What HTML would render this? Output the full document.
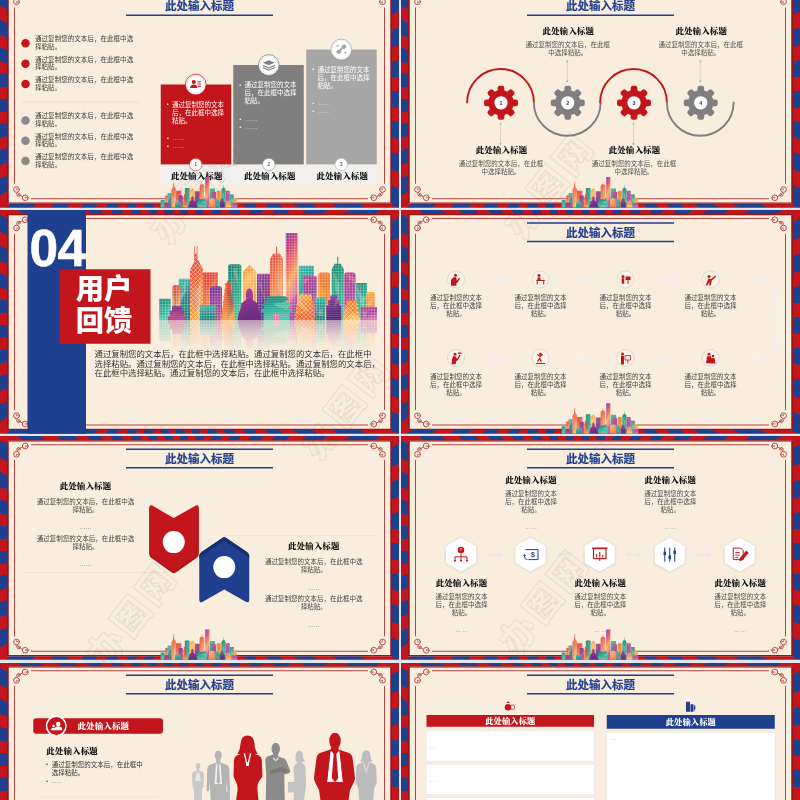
<!DOCTYPE html><html lang="zh"><head><meta charset="utf-8"><title>PPT</title><style>
html,body{margin:0;padding:0}
body{width:800px;height:800px;overflow:hidden;position:relative;background:#dfe8ef;font-family:"Liberation Sans","Noto Sans CJK SC",sans-serif}
.s{position:absolute;width:1596px;height:895px;transform:scale(.25);transform-origin:0 0;overflow:hidden;
background:repeating-conic-gradient(from -2.9deg at 44.7% 50%,#c3161c 0deg 3.7deg,#1f3f8f 3.7deg 8deg)}
.p{position:absolute;left:28px;top:14px;width:1526px;height:854px;border:solid #9a1717;border-width:5px 7px;background:#f9eedd;box-shadow:inset 0 0 0 2px #fdf6ea}
.a{position:absolute}
.t{position:absolute;white-space:nowrap;font-size:25px;line-height:32px;color:#3c3c3c}
.c{text-align:center;transform:translateX(-50%)}
.h{position:absolute;white-space:nowrap;font-family:"Liberation Serif","Noto Serif CJK SC",serif;font-weight:900;font-size:34px;line-height:44px;color:#111;letter-spacing:.5px}
.tt{position:absolute;left:504px;top:47px;width:588px;height:68px;border-top:6px solid #1f3f8f;border-bottom:6px solid #1f3f8f;-webkit-text-stroke:.7px #1f3f8f;
text-align:center;font-weight:bold;font-size:46px;line-height:70px;color:#1f3f8f;white-space:nowrap}
svg{position:absolute;left:0;top:0;overflow:visible}
.wm{position:absolute;white-space:nowrap;font-weight:900;font-size:37px;line-height:40px;letter-spacing:3px;color:transparent;-webkit-text-stroke:1.2px rgba(80,70,60,.11);transform:translate(-50%,-50%) rotate(-52deg)}
</style></head><body><svg width="0" height="0" style="position:absolute"><defs><linearGradient id="b0" x1="0" y1="0" x2="0.25" y2="1"><stop offset="0.00" stop-color="#2fb9a2"/><stop offset="0.50" stop-color="#17998c"/><stop offset="1.00" stop-color="#0f7f7c"/></linearGradient><linearGradient id="b1" x1="0" y1="0" x2="0.25" y2="1"><stop offset="0.00" stop-color="#df3440"/><stop offset="0.33" stop-color="#f0623c"/><stop offset="0.67" stop-color="#f6a05c"/><stop offset="1.00" stop-color="#e9709a"/></linearGradient><linearGradient id="b2" x1="0" y1="0" x2="0.25" y2="1"><stop offset="0.00" stop-color="#138371"/><stop offset="0.50" stop-color="#25ab93"/><stop offset="1.00" stop-color="#4cc5ab"/></linearGradient><linearGradient id="b3" x1="0" y1="0" x2="0.25" y2="1"><stop offset="0.00" stop-color="#e2322f"/><stop offset="0.50" stop-color="#ee5a32"/><stop offset="1.00" stop-color="#f9a03f"/></linearGradient><linearGradient id="b4" x1="0" y1="0" x2="0.25" y2="1"><stop offset="0.00" stop-color="#e2322f"/><stop offset="0.50" stop-color="#ee5a32"/><stop offset="1.00" stop-color="#f9a03f"/></linearGradient><linearGradient id="b5" x1="0" y1="0" x2="0.25" y2="1"><stop offset="0.00" stop-color="#5f2a8a"/><stop offset="0.50" stop-color="#8f3794"/><stop offset="1.00" stop-color="#ba3f8a"/></linearGradient><linearGradient id="b6" x1="0" y1="0" x2="0.25" y2="1"><stop offset="0.00" stop-color="#0c7a64"/><stop offset="0.50" stop-color="#1b9c7b"/><stop offset="1.00" stop-color="#3fb996"/></linearGradient><linearGradient id="b7" x1="0" y1="0" x2="0.25" y2="1"><stop offset="0.00" stop-color="#e2322f"/><stop offset="0.50" stop-color="#ee5a32"/><stop offset="1.00" stop-color="#f9a03f"/></linearGradient><linearGradient id="b8" x1="0" y1="0" x2="0.25" y2="1"><stop offset="0.00" stop-color="#f37a25"/><stop offset="0.33" stop-color="#fdbf57"/><stop offset="0.67" stop-color="#f9a34e"/><stop offset="1.00" stop-color="#ee6f7a"/></linearGradient><linearGradient id="b9" x1="0" y1="0" x2="0.25" y2="1"><stop offset="0.00" stop-color="#96399a"/><stop offset="0.50" stop-color="#6a2f8a"/><stop offset="1.00" stop-color="#4f2578"/></linearGradient><linearGradient id="b10" x1="0" y1="0" x2="0.25" y2="1"><stop offset="0.00" stop-color="#df3440"/><stop offset="0.33" stop-color="#f0623c"/><stop offset="0.67" stop-color="#f6a05c"/><stop offset="1.00" stop-color="#e9709a"/></linearGradient><linearGradient id="b11" x1="0" y1="0" x2="0.25" y2="1"><stop offset="0.00" stop-color="#6f3a98"/><stop offset="0.20" stop-color="#c2307e"/><stop offset="0.40" stop-color="#ee5a5a"/><stop offset="0.60" stop-color="#f8a84a"/><stop offset="0.80" stop-color="#e0609a"/><stop offset="1.00" stop-color="#9b3f9c"/></linearGradient><linearGradient id="b12" x1="0" y1="0" x2="0.25" y2="1"><stop offset="0.00" stop-color="#2fb9a2"/><stop offset="0.50" stop-color="#17998c"/><stop offset="1.00" stop-color="#0f7f7c"/></linearGradient><linearGradient id="b13" x1="0" y1="0" x2="0.25" y2="1"><stop offset="0.00" stop-color="#bd2f84"/><stop offset="0.50" stop-color="#9a3f98"/><stop offset="1.00" stop-color="#d86aa6"/></linearGradient><linearGradient id="b14" x1="0" y1="0" x2="0.25" y2="1"><stop offset="0.00" stop-color="#f26a2e"/><stop offset="0.50" stop-color="#f7941d"/><stop offset="1.00" stop-color="#fdbb4d"/></linearGradient><linearGradient id="b15" x1="0" y1="0" x2="0.25" y2="1"><stop offset="0.00" stop-color="#0c7a64"/><stop offset="0.50" stop-color="#1b9c7b"/><stop offset="1.00" stop-color="#3fb996"/></linearGradient><linearGradient id="b16" x1="0" y1="0" x2="0.25" y2="1"><stop offset="0.00" stop-color="#bd2f84"/><stop offset="0.50" stop-color="#9a3f98"/><stop offset="1.00" stop-color="#d86aa6"/></linearGradient><linearGradient id="b17" x1="0" y1="0" x2="0.25" y2="1"><stop offset="0.00" stop-color="#138371"/><stop offset="0.50" stop-color="#25ab93"/><stop offset="1.00" stop-color="#4cc5ab"/></linearGradient><linearGradient id="b18" x1="0" y1="0" x2="0.25" y2="1"><stop offset="0.00" stop-color="#fbb03b"/><stop offset="0.50" stop-color="#f58220"/><stop offset="1.00" stop-color="#ef5a2a"/></linearGradient><linearGradient id="b19" x1="0" y1="0" x2="0.25" y2="1"><stop offset="0.00" stop-color="#5f2a8a"/><stop offset="0.50" stop-color="#8f3794"/><stop offset="1.00" stop-color="#ba3f8a"/></linearGradient><linearGradient id="b20" x1="0" y1="0" x2="0.25" y2="1"><stop offset="0.00" stop-color="#2fb9a2"/><stop offset="0.50" stop-color="#17998c"/><stop offset="1.00" stop-color="#0f7f7c"/></linearGradient><linearGradient id="b21" x1="0" y1="0" x2="0.25" y2="1"><stop offset="0.00" stop-color="#b8418f"/><stop offset="0.50" stop-color="#8a3490"/><stop offset="1.00" stop-color="#6c2c84"/></linearGradient><linearGradient id="b22" x1="0" y1="0" x2="0.25" y2="1"><stop offset="0.00" stop-color="#138371"/><stop offset="0.50" stop-color="#25ab93"/><stop offset="1.00" stop-color="#4cc5ab"/></linearGradient><linearGradient id="b23" x1="0" y1="0" x2="0.25" y2="1"><stop offset="0.00" stop-color="#fbb03b"/><stop offset="0.50" stop-color="#f58220"/><stop offset="1.00" stop-color="#ef5a2a"/></linearGradient><linearGradient id="b24" x1="0" y1="0" x2="0.25" y2="1"><stop offset="0.00" stop-color="#2fb9a2"/><stop offset="0.50" stop-color="#17998c"/><stop offset="1.00" stop-color="#0f7f7c"/></linearGradient><linearGradient id="b25" x1="0" y1="0" x2="0.25" y2="1"><stop offset="0.00" stop-color="#96399a"/><stop offset="0.50" stop-color="#6a2f8a"/><stop offset="1.00" stop-color="#4f2578"/></linearGradient><linearGradient id="b26" x1="0" y1="0" x2="0.25" y2="1"><stop offset="0.00" stop-color="#f26a2e"/><stop offset="0.50" stop-color="#f7941d"/><stop offset="1.00" stop-color="#fdbb4d"/></linearGradient><linearGradient id="b27" x1="0" y1="0" x2="0.25" y2="1"><stop offset="0.00" stop-color="#bd2f84"/><stop offset="0.50" stop-color="#9a3f98"/><stop offset="1.00" stop-color="#d86aa6"/></linearGradient><pattern id="win" width="11" height="11" patternUnits="userSpaceOnUse"><path d="M0 1.2H11M1.2 0V11" stroke="#fff" stroke-opacity=".5" stroke-width="2.4" fill="none"/></pattern><pattern id="lat" width="17" height="17" patternUnits="userSpaceOnUse"><path d="M0 0L17 17M17 0L0 17" stroke="#fff" stroke-opacity=".8" stroke-width="2.4" fill="none"/></pattern><pattern id="hl" width="8" height="9" patternUnits="userSpaceOnUse"><path d="M0 1H8" stroke="#fff" stroke-opacity=".45" stroke-width="2" fill="none"/></pattern><linearGradient id="fade" x1="0" y1="0" x2="0" y2="1"><stop offset="0" stop-color="#fff" stop-opacity=".5"/><stop offset=".5" stop-color="#fff" stop-opacity=".2"/><stop offset="1" stop-color="#fff" stop-opacity="0"/></linearGradient><mask id="mfade"><rect x="600" y="438" width="950" height="125" fill="url(#fade)"/></mask><g id="SKY"><path d="M715 438 H760 V273 H715 Z" fill="url(#b0)"/><clipPath id="c0"><path d="M715 438 H760 V273 H715 Z"/></clipPath><g clip-path="url(#c0)"><path d="M730 298 L747 285 L740 333Z" fill="#fff" opacity=".22"/><path d="M756 308 L711 342 L721 364Z" fill="#fff" opacity=".22"/><path d="M752 293 L720 377 L767 368Z" fill="#5a2a80" opacity=".22"/></g><path d="M715 438 H760 V273 H715 Z" fill="url(#win)"/><path d="M690 438 H722 V308 Q722 298 712 298 H700 Q690 298 690 308 Z" fill="url(#b1)"/><clipPath id="c1"><path d="M690 438 H722 V308 Q722 298 712 298 H700 Q690 298 690 308 Z"/></clipPath><g clip-path="url(#c1)"><path d="M692 329 L709 317 L702 374Z" fill="#0b5d6b" opacity=".22"/><path d="M700 412 L689 379 L713 350Z" fill="#0b5d6b" opacity=".22"/><path d="M713 377 L712 367 L708 407Z" fill="#5a2a80" opacity=".22"/></g><path d="M690 438 H722 V308 Q722 298 712 298 H700 Q690 298 690 308 Z" fill="url(#win)"/><path d="M637 438 H683 V353 H637 Z" fill="url(#b2)"/><clipPath id="c2"><path d="M637 438 H683 V353 H637 Z"/></clipPath><g clip-path="url(#c2)"><path d="M664 392 L647 421 L673 374Z" fill="#0b5d6b" opacity=".22"/><path d="M651 395 L650 391 L667 359Z" fill="#0b5d6b" opacity=".22"/><path d="M656 417 L637 395 L630 410Z" fill="#0b5d6b" opacity=".22"/></g><path d="M637 438 H683 V353 H637 Z" fill="url(#win)"/><path d="M760 438 H812 V233 L790 193 V143 H787 V173 H780 V143 H777 V205 L760 238 Z" fill="url(#b3)"/><clipPath id="c3"><path d="M760 438 H812 V233 L790 193 V143 H787 V173 H780 V143 H777 V205 L760 238 Z"/></clipPath><g clip-path="url(#c3)"><path d="M790 407 L773 363 L793 335Z" fill="#5a2a80" opacity=".22"/><path d="M764 216 L769 364 L755 372Z" fill="#ff5a8a" opacity=".22"/><path d="M794 436 L809 263 L778 357Z" fill="#fff" opacity=".22"/></g><path d="M760 438 H812 V233 L790 193 V143 H787 V173 H780 V143 H777 V205 L760 238 Z" fill="url(#lat)"/><path d="M812 438 H872 V248 H812 Z" fill="url(#b4)"/><clipPath id="c4"><path d="M812 438 H872 V248 H812 Z"/></clipPath><g clip-path="url(#c4)"><path d="M868 316 L851 342 L819 303Z" fill="#e8402a" opacity=".22"/><path d="M827 322 L872 263 L838 352Z" fill="#ffd27a" opacity=".22"/><path d="M861 412 L824 327 L831 416Z" fill="#ffd27a" opacity=".22"/></g><path d="M812 438 H872 V248 H812 Z" fill="url(#win)"/><path d="M840 438 H888 V313 Q888 303 878 303 H850 Q840 303 840 313 Z" fill="url(#b5)"/><clipPath id="c5"><path d="M840 438 H888 V313 Q888 303 878 303 H850 Q840 303 840 313 Z"/></clipPath><g clip-path="url(#c5)"><path d="M847 327 L846 335 L863 383Z" fill="#ff5a8a" opacity=".22"/><path d="M854 323 L866 385 L852 320Z" fill="#0b5d6b" opacity=".22"/><path d="M886 391 L880 365 L889 432Z" fill="#e8402a" opacity=".22"/></g><path d="M840 438 H888 V313 Q888 303 878 303 H850 Q840 303 840 313 Z" fill="url(#win)"/><path d="M912 438 H965 V225 Q965 215 955 215 H922 Q912 215 912 225 Z" fill="url(#b6)"/><clipPath id="c6"><path d="M912 438 H965 V225 Q965 215 955 215 H922 Q912 215 912 225 Z"/></clipPath><g clip-path="url(#c6)"><path d="M954 303 L931 238 L948 229Z" fill="#fff" opacity=".22"/><path d="M964 313 L910 349 L909 341Z" fill="#0b5d6b" opacity=".22"/><path d="M917 296 L904 410 L947 248Z" fill="#ff5a8a" opacity=".22"/></g><path d="M912 438 H965 V225 Q965 215 955 215 H922 Q912 215 912 225 Z" fill="url(#win)"/><path d="M884.0 438.0 L884.0 438.0 L887.0 418.7 L881.0 414.7 L887.1 413.7 L890.1 394.3 L884.1 390.3 L890.2 389.3 L893.2 370.0 L887.2 366.0 L893.2 365.0 L896.2 345.7 L890.2 341.7 L896.3 340.7 L899.3 321.3 L893.3 317.3 L899.4 316.3 L902.4 297.0 L896.4 293.0 L907.0 292.0 L912.0 278.0 L917.0 292.0 L927.6 293.0 L921.6 297.0 L924.6 316.3 L930.7 317.3 L924.7 321.3 L927.7 340.7 L933.8 341.7 L927.8 345.7 L930.8 365.0 L936.8 366.0 L930.8 370.0 L933.8 389.3 L939.9 390.3 L933.9 394.3 L936.9 413.7 L943.0 414.7 L937.0 418.7 L940.0 438.0Z" fill="url(#b7)"/><clipPath id="c7"><path d="M884.0 438.0 L884.0 438.0 L887.0 418.7 L881.0 414.7 L887.1 413.7 L890.1 394.3 L884.1 390.3 L890.2 389.3 L893.2 370.0 L887.2 366.0 L893.2 365.0 L896.2 345.7 L890.2 341.7 L896.3 340.7 L899.3 321.3 L893.3 317.3 L899.4 316.3 L902.4 297.0 L896.4 293.0 L907.0 292.0 L912.0 278.0 L917.0 292.0 L927.6 293.0 L921.6 297.0 L924.6 316.3 L930.7 317.3 L924.7 321.3 L927.7 340.7 L933.8 341.7 L927.8 345.7 L930.8 365.0 L936.8 366.0 L930.8 370.0 L933.8 389.3 L939.9 390.3 L933.9 394.3 L936.9 413.7 L943.0 414.7 L937.0 418.7 L940.0 438.0Z"/></clipPath><g clip-path="url(#c7)"><path d="M938 374 L910 296 L911 434Z" fill="#5a2a80" opacity=".22"/><path d="M911 292 L882 333 L894 411Z" fill="#ffd27a" opacity=".22"/><path d="M913 311 L946 336 L926 424Z" fill="#0b5d6b" opacity=".22"/></g><path d="M884.0 438.0 L884.0 438.0 L887.0 418.7 L881.0 414.7 L887.1 413.7 L890.1 394.3 L884.1 390.3 L890.2 389.3 L893.2 370.0 L887.2 366.0 L893.2 365.0 L896.2 345.7 L890.2 341.7 L896.3 340.7 L899.3 321.3 L893.3 317.3 L899.4 316.3 L902.4 297.0 L896.4 293.0 L907.0 292.0 L912.0 278.0 L917.0 292.0 L927.6 293.0 L921.6 297.0 L924.6 316.3 L930.7 317.3 L924.7 321.3 L927.7 340.7 L933.8 341.7 L927.8 345.7 L930.8 365.0 L936.8 366.0 L930.8 370.0 L933.8 389.3 L939.9 390.3 L933.9 394.3 L936.9 413.7 L943.0 414.7 L937.0 418.7 L940.0 438.0Z" fill="url(#hl)"/><path d="M972 438 H1025 V245 L998.5 217 L972 245 Z" fill="url(#b8)"/><clipPath id="c8"><path d="M972 438 H1025 V245 L998.5 217 L972 245 Z"/></clipPath><g clip-path="url(#c8)"><path d="M988 369 L969 408 L1000 420Z" fill="#ff5a8a" opacity=".22"/><path d="M1013 348 L1019 309 L978 402Z" fill="#ffd27a" opacity=".22"/><path d="M1015 403 L1016 289 L1000 314Z" fill="#fff" opacity=".22"/></g><path d="M972 438 H1025 V245 L998.5 217 L972 245 Z" fill="url(#win)"/><path d="M1028 438 H1082 V253 H1028 Z" fill="url(#b9)"/><clipPath id="c9"><path d="M1028 438 H1082 V253 H1028 Z"/></clipPath><g clip-path="url(#c9)"><path d="M1081 399 L1053 289 L1063 317Z" fill="#e8402a" opacity=".22"/><path d="M1081 430 L1045 294 L1035 289Z" fill="#ffd27a" opacity=".22"/><path d="M1054 435 L1063 253 L1085 317Z" fill="#e8402a" opacity=".22"/></g><path d="M1028 438 H1082 V253 H1028 Z" fill="url(#win)"/><path d="M1080 438 H1132 V195 L1120 173 L1108 173 V145 H1104 V173 L1092 173 L1080 195 Z" fill="url(#b10)"/><clipPath id="c10"><path d="M1080 438 H1132 V195 L1120 173 L1108 173 V145 H1104 V173 L1092 173 L1080 195 Z"/></clipPath><g clip-path="url(#c10)"><path d="M1084 348 L1136 380 L1124 300Z" fill="#ffd27a" opacity=".22"/><path d="M1103 341 L1076 424 L1122 296Z" fill="#e8402a" opacity=".22"/><path d="M1129 365 L1082 207 L1081 413Z" fill="#e8402a" opacity=".22"/></g><path d="M1080 438 H1132 V195 L1120 173 L1108 173 V145 H1104 V173 L1092 173 L1080 195 Z" fill="url(#win)"/><path d="M1143 438 H1190 V90 H1143 Z" fill="url(#b11)"/><clipPath id="c11"><path d="M1143 438 H1190 V90 H1143 Z"/></clipPath><g clip-path="url(#c11)"><path d="M1150 378 L1199 319 L1156 281Z" fill="#ffd27a" opacity=".22"/><path d="M1144 368 L1182 126 L1183 138Z" fill="#ffd27a" opacity=".22"/><path d="M1182 163 L1150 192 L1149 294Z" fill="#ff5a8a" opacity=".22"/></g><path d="M1143 438 H1190 V90 H1143 Z" fill="url(#win)"/><path d="M1195 438 H1255 V221 H1195 Z" fill="url(#b12)"/><clipPath id="c12"><path d="M1195 438 H1255 V221 H1195 Z"/></clipPath><g clip-path="url(#c12)"><path d="M1228 402 L1190 382 L1257 365Z" fill="#0b5d6b" opacity=".22"/><path d="M1220 420 L1225 336 L1227 225Z" fill="#5a2a80" opacity=".22"/><path d="M1242 353 L1247 254 L1196 355Z" fill="#fff" opacity=".22"/></g><path d="M1195 438 H1255 V221 H1195 Z" fill="url(#win)"/><path d="M1215 438 H1267 V263 H1215 Z" fill="url(#b13)"/><clipPath id="c13"><path d="M1215 438 H1267 V263 H1215 Z"/></clipPath><g clip-path="url(#c13)"><path d="M1244 320 L1242 360 L1261 282Z" fill="#0b5d6b" opacity=".22"/><path d="M1218 296 L1208 280 L1238 268Z" fill="#fff" opacity=".22"/><path d="M1238 370 L1241 353 L1255 342Z" fill="#0b5d6b" opacity=".22"/></g><path d="M1215 438 H1267 V263 H1215 Z" fill="url(#win)"/><path d="M1273 438 H1320 V258 Q1320 248 1310 248 H1283 Q1273 248 1273 258 Z" fill="url(#b14)"/><clipPath id="c14"><path d="M1273 438 H1320 V258 Q1320 248 1310 248 H1283 Q1273 248 1273 258 Z"/></clipPath><g clip-path="url(#c14)"><path d="M1311 344 L1280 347 L1322 424Z" fill="#0b5d6b" opacity=".22"/><path d="M1315 286 L1293 327 L1289 308Z" fill="#e8402a" opacity=".22"/><path d="M1284 262 L1308 397 L1323 277Z" fill="#e8402a" opacity=".22"/></g><path d="M1273 438 H1320 V258 Q1320 248 1310 248 H1283 Q1273 248 1273 258 Z" fill="url(#win)"/><path d="M1327 438 H1375 V235 L1363 213 L1353 213 V185 H1349 V213 L1339 213 L1327 235 Z" fill="url(#b15)"/><clipPath id="c15"><path d="M1327 438 H1375 V235 L1363 213 L1353 213 V185 H1349 V213 L1339 213 L1327 235 Z"/></clipPath><g clip-path="url(#c15)"><path d="M1358 295 L1334 244 L1349 381Z" fill="#fff" opacity=".22"/><path d="M1346 323 L1384 400 L1328 310Z" fill="#0b5d6b" opacity=".22"/><path d="M1346 308 L1341 234 L1342 289Z" fill="#5a2a80" opacity=".22"/></g><path d="M1327 438 H1375 V235 L1363 213 L1353 213 V185 H1349 V213 L1339 213 L1327 235 Z" fill="url(#win)"/><path d="M1377 438 H1422 V258 Q1422 248 1412 248 H1387 Q1377 248 1377 258 Z" fill="url(#b16)"/><clipPath id="c16"><path d="M1377 438 H1422 V258 Q1422 248 1412 248 H1387 Q1377 248 1377 258 Z"/></clipPath><g clip-path="url(#c16)"><path d="M1397 251 L1389 367 L1400 260Z" fill="#ffd27a" opacity=".22"/><path d="M1421 268 L1384 256 L1418 299Z" fill="#ffd27a" opacity=".22"/><path d="M1414 409 L1411 428 L1393 350Z" fill="#0b5d6b" opacity=".22"/></g><path d="M1377 438 H1422 V258 Q1422 248 1412 248 H1387 Q1377 248 1377 258 Z" fill="url(#win)"/><path d="M1425 438 H1468 V290 H1425 Z" fill="url(#b17)"/><clipPath id="c17"><path d="M1425 438 H1468 V290 H1425 Z"/></clipPath><g clip-path="url(#c17)"><path d="M1450 394 L1421 299 L1458 353Z" fill="#fff" opacity=".22"/><path d="M1437 292 L1421 329 L1453 323Z" fill="#ff5a8a" opacity=".22"/><path d="M1462 357 L1436 372 L1473 330Z" fill="#ffd27a" opacity=".22"/></g><path d="M1425 438 H1468 V290 H1425 Z" fill="url(#win)"/><path d="M1465 438 H1500 V336 Q1500 326 1490 326 H1475 Q1465 326 1465 336 Z" fill="url(#b18)"/><clipPath id="c18"><path d="M1465 438 H1500 V336 Q1500 326 1490 326 H1475 Q1465 326 1465 336 Z"/></clipPath><g clip-path="url(#c18)"><path d="M1467 405 L1507 435 L1469 346Z" fill="#ff5a8a" opacity=".22"/><path d="M1487 385 L1466 376 L1492 356Z" fill="#fff" opacity=".22"/><path d="M1500 330 L1456 383 L1509 384Z" fill="#ffd27a" opacity=".22"/></g><path d="M1465 438 H1500 V336 Q1500 326 1490 326 H1475 Q1465 326 1465 336 Z" fill="url(#win)"/><path d="M672 438 H745 V423 H737 V401 H729 V383 H688 V401 H680 V423 H672 Z" fill="url(#b19)"/><clipPath id="c19"><path d="M672 438 H745 V423 H737 V401 H729 V383 H688 V401 H680 V423 H672 Z"/></clipPath><g clip-path="url(#c19)"><path d="M740 389 L738 407 L708 429Z" fill="#5a2a80" opacity=".22"/><path d="M743 400 L682 396 L680 432Z" fill="#e8402a" opacity=".22"/><path d="M718 405 L694 386 L674 387Z" fill="#e8402a" opacity=".22"/></g><path d="M672 438 H745 V423 H737 V401 H729 V383 H688 V401 H680 V423 H672 Z" fill="url(#hl)"/><path d="M800 438 H865 V378 H800 Z" fill="url(#b20)"/><clipPath id="c20"><path d="M800 438 H865 V378 H800 Z"/></clipPath><g clip-path="url(#c20)"><path d="M857 404 L795 418 L822 408Z" fill="#ff5a8a" opacity=".22"/><path d="M839 420 L794 389 L813 378Z" fill="#ff5a8a" opacity=".22"/><path d="M863 436 L837 393 L872 397Z" fill="#ff5a8a" opacity=".22"/></g><path d="M800 438 H865 V378 H800 Z" fill="url(#win)"/><path d="M950 438 H1045 L1039 408 L1031.5 390 L1029.5 371 L1010.5 357 Q1015.5 315 997.5 311 Q979.5 315 984.5 357 L965.5 371 L963.5 390 L956 408 L950 438 Z" fill="url(#b21)"/><clipPath id="c21"><path d="M950 438 H1045 L1039 408 L1031.5 390 L1029.5 371 L1010.5 357 Q1015.5 315 997.5 311 Q979.5 315 984.5 357 L965.5 371 L963.5 390 L956 408 L950 438 Z"/></clipPath><g clip-path="url(#c21)"><path d="M967 355 L950 348 L1015 344Z" fill="#fff" opacity=".22"/><path d="M959 415 L957 386 L985 350Z" fill="#e8402a" opacity=".22"/><path d="M972 386 L1001 407 L1016 402Z" fill="#0b5d6b" opacity=".22"/></g><path d="M1054 438 L1054 407 L1040 403 L1052 391 L1060 391 L1060 383 L1046 379 L1058 367 L1068 367 L1068 359 L1056 355 L1072 343 L1140 343 L1156 355 L1144 359 L1144 367 L1154 367 L1166 379 L1152 383 L1152 391 L1160 391 L1172 403 L1158 407 L1158 438 L1120 438 L1120 412 L1092 412 L1092 438Z" fill="url(#b22)"/><clipPath id="c22"><path d="M1054 438 L1054 407 L1040 403 L1052 391 L1060 391 L1060 383 L1046 379 L1058 367 L1068 367 L1068 359 L1056 355 L1072 343 L1140 343 L1156 355 L1144 359 L1144 367 L1154 367 L1166 379 L1152 383 L1152 391 L1160 391 L1172 403 L1158 407 L1158 438 L1120 438 L1120 412 L1092 412 L1092 438Z"/></clipPath><g clip-path="url(#c22)"><path d="M1091 374 L1180 357 L1140 404Z" fill="#fff" opacity=".22"/><path d="M1149 411 L1108 384 L1137 391Z" fill="#0b5d6b" opacity=".22"/><path d="M1139 397 L1154 345 L1134 419Z" fill="#e8402a" opacity=".22"/></g><path d="M1054 438 L1054 407 L1040 403 L1052 391 L1060 391 L1060 383 L1046 379 L1058 367 L1068 367 L1068 359 L1056 355 L1072 343 L1140 343 L1156 355 L1144 359 L1144 367 L1154 367 L1166 379 L1152 383 L1152 391 L1160 391 L1172 403 L1158 407 L1158 438 L1120 438 L1120 412 L1092 412 L1092 438Z" fill="url(#hl)"/><path d="M1178 438 H1260 L1246 336 H1192 Z" fill="url(#b23)"/><clipPath id="c23"><path d="M1178 438 H1260 L1246 336 H1192 Z"/></clipPath><g clip-path="url(#c23)"><path d="M1234 407 L1191 339 L1182 373Z" fill="#fff" opacity=".22"/><path d="M1209 382 L1173 338 L1222 361Z" fill="#ff5a8a" opacity=".22"/><path d="M1178 417 L1244 387 L1223 403Z" fill="#fff" opacity=".22"/></g><path d="M1178 438 H1260 L1246 336 H1192 Z" fill="url(#lat)"/><path d="M1260 438 H1300 V348 H1260 Z" fill="url(#b24)"/><clipPath id="c24"><path d="M1260 438 H1300 V348 H1260 Z"/></clipPath><g clip-path="url(#c24)"><path d="M1290 391 L1299 424 L1264 416Z" fill="#ffd27a" opacity=".22"/><path d="M1290 436 L1280 382 L1279 410Z" fill="#fff" opacity=".22"/><path d="M1285 406 L1255 361 L1265 415Z" fill="#ff5a8a" opacity=".22"/></g><path d="M1260 438 H1300 V348 H1260 Z" fill="url(#win)"/><path d="M1305 438 H1365 V380 H1357 V358 H1349 V340 H1321 V358 H1313 V380 H1305 Z" fill="url(#b25)"/><clipPath id="c25"><path d="M1305 438 H1365 V380 H1357 V358 H1349 V340 H1321 V358 H1313 V380 H1305 Z"/></clipPath><g clip-path="url(#c25)"><path d="M1342 353 L1334 388 L1373 350Z" fill="#ffd27a" opacity=".22"/><path d="M1346 369 L1336 386 L1332 352Z" fill="#0b5d6b" opacity=".22"/><path d="M1317 436 L1370 342 L1332 420Z" fill="#5a2a80" opacity=".22"/></g><path d="M1305 438 H1365 V380 H1357 V358 H1349 V340 H1321 V358 H1313 V380 H1305 Z" fill="url(#hl)"/><path d="M1372 438 H1440 L1426 360 H1386 Z" fill="url(#b26)"/><clipPath id="c26"><path d="M1372 438 H1440 L1426 360 H1386 Z"/></clipPath><g clip-path="url(#c26)"><path d="M1440 390 L1443 433 L1369 367Z" fill="#e8402a" opacity=".22"/><path d="M1408 434 L1374 424 L1407 429Z" fill="#e8402a" opacity=".22"/><path d="M1397 399 L1439 391 L1376 434Z" fill="#e8402a" opacity=".22"/></g><path d="M1372 438 H1440 L1426 360 H1386 Z" fill="url(#lat)"/><path d="M1443 438 H1508 V386 H1443 Z" fill="url(#b27)"/><clipPath id="c27"><path d="M1443 438 H1508 V386 H1443 Z"/></clipPath><g clip-path="url(#c27)"><path d="M1472 402 L1445 404 L1460 430Z" fill="#fff" opacity=".22"/><path d="M1464 404 L1467 435 L1450 387Z" fill="#e8402a" opacity=".22"/><path d="M1462 405 L1466 438 L1483 405Z" fill="#5a2a80" opacity=".22"/></g><path d="M1443 438 H1508 V386 H1443 Z" fill="url(#win)"/></g></defs></svg><div class="s" style="left:0px;top:-16px"><div class="a" style="left:0;top:1.4px;width:1596px;height:894px"><div class="p"></div><svg width="1596" height="894" viewBox="0 0 1596 894" fill="none" stroke="#b23a38" stroke-width="3.8"><path d="M124 32 H1472 M124 858 H1472 M58 93 V798 M1538 93 V798"/><g><g stroke-width="3.6" transform="translate(0,-3)" stroke-linecap="round"><circle cx="66" cy="73" r="11.5"/><circle cx="101" cy="40" r="11.5"/><path d="M66 73 C70 70 72 76 67 78"/><path d="M69 61 C63 50 72 42 79 48 C85 54 76 62 73 55 C71 47 84 52 89 44"/><path d="M101 40 C104 35 109 40 104 44"/></g></g><g transform="translate(1596,0) scale(-1,1)"><g stroke-width="3.6" transform="translate(0,-3)" stroke-linecap="round"><circle cx="66" cy="73" r="11.5"/><circle cx="101" cy="40" r="11.5"/><path d="M66 73 C70 70 72 76 67 78"/><path d="M69 61 C63 50 72 42 79 48 C85 54 76 62 73 55 C71 47 84 52 89 44"/><path d="M101 40 C104 35 109 40 104 44"/></g></g><g transform="translate(0,891) scale(1,-1)"><g stroke-width="3.6" transform="translate(0,-3)" stroke-linecap="round"><circle cx="66" cy="73" r="11.5"/><circle cx="101" cy="40" r="11.5"/><path d="M66 73 C70 70 72 76 67 78"/><path d="M69 61 C63 50 72 42 79 48 C85 54 76 62 73 55 C71 47 84 52 89 44"/><path d="M101 40 C104 35 109 40 104 44"/></g></g><g transform="translate(1596,891) scale(-1,-1)"><g stroke-width="3.6" transform="translate(0,-3)" stroke-linecap="round"><circle cx="66" cy="73" r="11.5"/><circle cx="101" cy="40" r="11.5"/><path d="M66 73 C70 70 72 76 67 78"/><path d="M69 61 C63 50 72 42 79 48 C85 54 76 62 73 55 C71 47 84 52 89 44"/><path d="M101 40 C104 35 109 40 104 44"/></g></g></svg><div class="tt">此处输入标题</div><div class="a" style="left:85px;top:218.6px;width:34px;height:34px;border-radius:50%;background:#c3161c"></div><div class="t" style="left:140px;top:203.1px;font-size:26.2px;line-height:31px;">通过复制您的文本后，在此框中选<br>择粘贴。</div><div class="a" style="left:85px;top:300.6px;width:34px;height:34px;border-radius:50%;background:#c3161c"></div><div class="t" style="left:140px;top:285.1px;font-size:26.2px;line-height:31px;">通过复制您的文本后，在此框中选<br>择粘贴。</div><div class="a" style="left:85px;top:381.6px;width:34px;height:34px;border-radius:50%;background:#c3161c"></div><div class="t" style="left:140px;top:366.1px;font-size:26.2px;line-height:31px;">通过复制您的文本后，在此框中选<br>择粘贴。</div><div class="a" style="left:85px;top:527.6px;width:34px;height:34px;border-radius:50%;background:#8a8a8a"></div><div class="t" style="left:140px;top:512.1px;font-size:26.2px;line-height:31px;">通过复制您的文本后，在此框中选<br>择粘贴。</div><div class="a" style="left:85px;top:608.6px;width:34px;height:34px;border-radius:50%;background:#8a8a8a"></div><div class="t" style="left:140px;top:593.1px;font-size:26.2px;line-height:31px;">通过复制您的文本后，在此框中选<br>择粘贴。</div><div class="a" style="left:85px;top:689.6px;width:34px;height:34px;border-radius:50%;background:#8a8a8a"></div><div class="t" style="left:140px;top:674.1px;font-size:26.2px;line-height:31px;">通过复制您的文本后，在此框中选<br>择粘贴。</div><div class="a" style="left:88px;top:470px;width:467px;height:2px;background:#d6cfc0"></div><div class="a" style="left:643px;top:400.6px;width:282px;height:320px;background:#c3161c"></div><div class="a" style="left:933px;top:322.6px;width:282px;height:398px;background:#7f7f7f"></div><div class="a" style="left:1225px;top:260.6px;width:282px;height:460px;background:#a6a6a6"></div><div class="a" style="left:643px;top:722px;width:864px;height:75px;background:#f1f0ee"></div><div class="t" style="left:688px;top:464.6px;font-size:26px;line-height:32px;color:#fff;">通过复制您的文本<br>后，在此框中选择<br>粘贴。</div><div class="t" style="left:667px;top:464.6px;font-size:22px;line-height:32px;color:#fff;">•</div><div class="t" style="left:667px;top:598.6px;font-size:25px;line-height:32px;color:#ffffffdd;">•&nbsp;&nbsp;……<br>•&nbsp;&nbsp;……</div><div class="a" style="left:740px;top:357.6px;width:80px;height:80px;border-radius:50%;background:#fff;border:3px solid #c3161c"></div><div class="a" style="left:746.5px;top:364.1px;width:70px;height:70px;border-radius:50%;border:1.5px solid #c3161c;opacity:.6"></div><div class="a" style="left:757px;top:694.6px;width:48px;height:48px;border-radius:50%;background:#fff;border:2px solid #c3161c;text-align:center;font-size:21px;line-height:48px;color:#333">1</div><div class="h c" style="left:787px;top:746.6px;">此处输入标题</div><div class="t" style="left:978px;top:386.6px;font-size:26px;line-height:32px;color:#fff;">通过复制您的文本<br>后，在此框中选择<br>粘贴。</div><div class="t" style="left:957px;top:386.6px;font-size:22px;line-height:32px;color:#fff;">•</div><div class="t" style="left:957px;top:520.6px;font-size:25px;line-height:32px;color:#ffffffdd;">•&nbsp;&nbsp;……<br>•&nbsp;&nbsp;……</div><div class="a" style="left:1032px;top:279.6px;width:80px;height:80px;border-radius:50%;background:#fff;border:3px solid #7f7f7f"></div><div class="a" style="left:1038.5px;top:286.1px;width:70px;height:70px;border-radius:50%;border:1.5px solid #7f7f7f;opacity:.6"></div><div class="a" style="left:1049px;top:694.6px;width:48px;height:48px;border-radius:50%;background:#fff;border:2px solid #7f7f7f;text-align:center;font-size:21px;line-height:48px;color:#333">2</div><div class="h c" style="left:1079px;top:746.6px;">此处输入标题</div><div class="t" style="left:1270px;top:324.6px;font-size:26px;line-height:32px;color:#fff;">通过复制您的文本<br>后，在此框中选择<br>粘贴。</div><div class="t" style="left:1249px;top:324.6px;font-size:22px;line-height:32px;color:#fff;">•</div><div class="t" style="left:1249px;top:458.6px;font-size:25px;line-height:32px;color:#ffffffdd;">•&nbsp;&nbsp;……<br>•&nbsp;&nbsp;……</div><div class="a" style="left:1322px;top:217.6px;width:80px;height:80px;border-radius:50%;background:#fff;border:3px solid #a6a6a6"></div><div class="a" style="left:1328.5px;top:224.1px;width:70px;height:70px;border-radius:50%;border:1.5px solid #a6a6a6;opacity:.6"></div><div class="a" style="left:1339px;top:694.6px;width:48px;height:48px;border-radius:50%;background:#fff;border:2px solid #a6a6a6;text-align:center;font-size:21px;line-height:48px;color:#333">3</div><div class="h c" style="left:1369px;top:746.6px;">此处输入标题</div><svg width="1596" height="894"><g fill="#c3161c"><circle cx="775" cy="391" r="8"/><path d="M761 415 q0 -14 14 -14 q14 0 14 14z"/><rect x="790" y="388" width="14" height="4"/><rect x="790" y="397" width="14" height="4"/><rect x="790" y="406" width="14" height="4"/><rect x="757" y="381" width="50" height="3" opacity=".0"/></g><g fill="#7f7f7f"><path d="M1075 304 l24 10 l-24 10 l-24 -10z"/><path d="M1051 322 l24 10 l24 -10 l0 5 l-24 10 l-24 -10z"/><path d="M1051 331 l24 10 l24 -10 l0 5 l-24 10 l-24 -10z"/></g><g fill="#a6a6a6"><rect x="1347" y="262" width="16" height="16" rx="3" transform="rotate(-45 1355 270)"/><rect x="1368" y="242" width="16" height="16" rx="3" transform="rotate(-45 1376 250)"/><rect x="1358" y="255" width="14" height="8" transform="rotate(-45 1365 259)"/><circle cx="1350" cy="246" r="4"/><circle cx="1381" cy="274" r="4"/></g></svg><svg width="1596" height="894"><use href="#SKY" transform="translate(418.48,738.824) scale(0.352)"/></svg></div></div><div class="s" style="left:401px;top:-16px"><div class="a" style="left:0;top:1.4px;width:1596px;height:894px"><div class="p"></div><svg width="1596" height="894" viewBox="0 0 1596 894" fill="none" stroke="#b23a38" stroke-width="3.8"><path d="M124 32 H1472 M124 858 H1472 M58 93 V798 M1538 93 V798"/><g><g stroke-width="3.6" transform="translate(0,-3)" stroke-linecap="round"><circle cx="66" cy="73" r="11.5"/><circle cx="101" cy="40" r="11.5"/><path d="M66 73 C70 70 72 76 67 78"/><path d="M69 61 C63 50 72 42 79 48 C85 54 76 62 73 55 C71 47 84 52 89 44"/><path d="M101 40 C104 35 109 40 104 44"/></g></g><g transform="translate(1596,0) scale(-1,1)"><g stroke-width="3.6" transform="translate(0,-3)" stroke-linecap="round"><circle cx="66" cy="73" r="11.5"/><circle cx="101" cy="40" r="11.5"/><path d="M66 73 C70 70 72 76 67 78"/><path d="M69 61 C63 50 72 42 79 48 C85 54 76 62 73 55 C71 47 84 52 89 44"/><path d="M101 40 C104 35 109 40 104 44"/></g></g><g transform="translate(0,891) scale(1,-1)"><g stroke-width="3.6" transform="translate(0,-3)" stroke-linecap="round"><circle cx="66" cy="73" r="11.5"/><circle cx="101" cy="40" r="11.5"/><path d="M66 73 C70 70 72 76 67 78"/><path d="M69 61 C63 50 72 42 79 48 C85 54 76 62 73 55 C71 47 84 52 89 44"/><path d="M101 40 C104 35 109 40 104 44"/></g></g><g transform="translate(1596,891) scale(-1,-1)"><g stroke-width="3.6" transform="translate(0,-3)" stroke-linecap="round"><circle cx="66" cy="73" r="11.5"/><circle cx="101" cy="40" r="11.5"/><path d="M66 73 C70 70 72 76 67 78"/><path d="M69 61 C63 50 72 42 79 48 C85 54 76 62 73 55 C71 47 84 52 89 44"/><path d="M101 40 C104 35 109 40 104 44"/></g></g></svg><div class="tt">此处输入标题</div><svg width="1596" height="894"><path d="M264.5 472.6 A133.5 133.5 0 0 1 531.5 472.6" fill="none" stroke="#c3161c" stroke-width="7.5" stroke-linecap="round"/><path d="M531.5 472.6 A133.5 133.5 0 0 0 798.5 472.6" fill="none" stroke="#7f7f7f" stroke-width="7.5" stroke-linecap="round"/><path d="M796.5 472.6 A133.5 133.5 0 0 1 1063.5 472.6" fill="none" stroke="#c3161c" stroke-width="7.5" stroke-linecap="round"/><path d="M1063.5 472.6 A133.5 133.5 0 0 0 1330.5 472.6" fill="none" stroke="#7f7f7f" stroke-width="7.5" stroke-linecap="round"/><g fill="#c3161c"><circle cx="400" cy="474.1" r="51"/><rect x="386.5" y="406.1" width="27" height="34" rx="9" transform="rotate(0 400 474.1)"/><rect x="386.5" y="406.1" width="27" height="34" rx="9" transform="rotate(45 400 474.1)"/><rect x="386.5" y="406.1" width="27" height="34" rx="9" transform="rotate(90 400 474.1)"/><rect x="386.5" y="406.1" width="27" height="34" rx="9" transform="rotate(135 400 474.1)"/><rect x="386.5" y="406.1" width="27" height="34" rx="9" transform="rotate(180 400 474.1)"/><rect x="386.5" y="406.1" width="27" height="34" rx="9" transform="rotate(225 400 474.1)"/><rect x="386.5" y="406.1" width="27" height="34" rx="9" transform="rotate(270 400 474.1)"/><rect x="386.5" y="406.1" width="27" height="34" rx="9" transform="rotate(315 400 474.1)"/></g><circle cx="400" cy="474.1" r="26.5" fill="#fff"/><path d="M398 557.6 V637.6" stroke="#b4b9c6" stroke-width="2"/><circle cx="398" cy="557.6" r="4" fill="#a9afc0"/><circle cx="398" cy="637.6" r="4" fill="#a9afc0"/><g fill="#7f7f7f"><circle cx="667" cy="474.1" r="51"/><rect x="653.5" y="406.1" width="27" height="34" rx="9" transform="rotate(0 667 474.1)"/><rect x="653.5" y="406.1" width="27" height="34" rx="9" transform="rotate(45 667 474.1)"/><rect x="653.5" y="406.1" width="27" height="34" rx="9" transform="rotate(90 667 474.1)"/><rect x="653.5" y="406.1" width="27" height="34" rx="9" transform="rotate(135 667 474.1)"/><rect x="653.5" y="406.1" width="27" height="34" rx="9" transform="rotate(180 667 474.1)"/><rect x="653.5" y="406.1" width="27" height="34" rx="9" transform="rotate(225 667 474.1)"/><rect x="653.5" y="406.1" width="27" height="34" rx="9" transform="rotate(270 667 474.1)"/><rect x="653.5" y="406.1" width="27" height="34" rx="9" transform="rotate(315 667 474.1)"/></g><circle cx="667" cy="474.1" r="26.5" fill="#fff"/><path d="M665 307.6 V387.6" stroke="#b4b9c6" stroke-width="2"/><circle cx="665" cy="307.6" r="4" fill="#a9afc0"/><circle cx="665" cy="387.6" r="4" fill="#a9afc0"/><g fill="#c3161c"><circle cx="932" cy="474.1" r="51"/><rect x="918.5" y="406.1" width="27" height="34" rx="9" transform="rotate(0 932 474.1)"/><rect x="918.5" y="406.1" width="27" height="34" rx="9" transform="rotate(45 932 474.1)"/><rect x="918.5" y="406.1" width="27" height="34" rx="9" transform="rotate(90 932 474.1)"/><rect x="918.5" y="406.1" width="27" height="34" rx="9" transform="rotate(135 932 474.1)"/><rect x="918.5" y="406.1" width="27" height="34" rx="9" transform="rotate(180 932 474.1)"/><rect x="918.5" y="406.1" width="27" height="34" rx="9" transform="rotate(225 932 474.1)"/><rect x="918.5" y="406.1" width="27" height="34" rx="9" transform="rotate(270 932 474.1)"/><rect x="918.5" y="406.1" width="27" height="34" rx="9" transform="rotate(315 932 474.1)"/></g><circle cx="932" cy="474.1" r="26.5" fill="#fff"/><path d="M930 557.6 V637.6" stroke="#b4b9c6" stroke-width="2"/><circle cx="930" cy="557.6" r="4" fill="#a9afc0"/><circle cx="930" cy="637.6" r="4" fill="#a9afc0"/><g fill="#7f7f7f"><circle cx="1199" cy="474.1" r="51"/><rect x="1185.5" y="406.1" width="27" height="34" rx="9" transform="rotate(0 1199 474.1)"/><rect x="1185.5" y="406.1" width="27" height="34" rx="9" transform="rotate(45 1199 474.1)"/><rect x="1185.5" y="406.1" width="27" height="34" rx="9" transform="rotate(90 1199 474.1)"/><rect x="1185.5" y="406.1" width="27" height="34" rx="9" transform="rotate(135 1199 474.1)"/><rect x="1185.5" y="406.1" width="27" height="34" rx="9" transform="rotate(180 1199 474.1)"/><rect x="1185.5" y="406.1" width="27" height="34" rx="9" transform="rotate(225 1199 474.1)"/><rect x="1185.5" y="406.1" width="27" height="34" rx="9" transform="rotate(270 1199 474.1)"/><rect x="1185.5" y="406.1" width="27" height="34" rx="9" transform="rotate(315 1199 474.1)"/></g><circle cx="1199" cy="474.1" r="26.5" fill="#fff"/><path d="M1197 307.6 V387.6" stroke="#b4b9c6" stroke-width="2"/><circle cx="1197" cy="307.6" r="4" fill="#a9afc0"/><circle cx="1197" cy="387.6" r="4" fill="#a9afc0"/></svg><div class="t c" style="left:400px;top:463.6px;font-size:21px;line-height:24px;color:#333;font-weight:bold;">1</div><div class="h c" style="left:402px;top:641.6px;">此处输入标题</div><div class="t c" style="left:400px;top:702.85px;font-size:26px;line-height:31.5px;color:#505050;">通过复制您的文本后，在此框<br>中选择粘贴。</div><div class="t c" style="left:667px;top:463.6px;font-size:21px;line-height:24px;color:#333;font-weight:bold;">2</div><div class="h c" style="left:669px;top:166.6px;">此处输入标题</div><div class="t c" style="left:667px;top:225.85px;font-size:26px;line-height:31.5px;color:#505050;">通过复制您的文本后，在此框<br>中选择粘贴。</div><div class="t c" style="left:932px;top:463.6px;font-size:21px;line-height:24px;color:#333;font-weight:bold;">3</div><div class="h c" style="left:934px;top:641.6px;">此处输入标题</div><div class="t c" style="left:932px;top:702.85px;font-size:26px;line-height:31.5px;color:#505050;">通过复制您的文本后，在此框<br>中选择粘贴。</div><div class="t c" style="left:1199px;top:463.6px;font-size:21px;line-height:24px;color:#333;font-weight:bold;">4</div><div class="h c" style="left:1201px;top:166.6px;">此处输入标题</div><div class="t c" style="left:1199px;top:225.85px;font-size:26px;line-height:31.5px;color:#505050;">通过复制您的文本后，在此框<br>中选择粘贴。</div><svg width="1596" height="894"><use href="#SKY" transform="translate(418.48,738.824) scale(0.352)"/></svg></div></div><div class="s" style="left:0px;top:210px"><div class="a" style="left:0;top:2.0px;width:1596px;height:894px"><div class="p"></div><svg width="1596" height="894" viewBox="0 0 1596 894" fill="none" stroke="#b23a38" stroke-width="3.8"><path d="M124 32 H1472 M124 858 H1472 M58 93 V798 M1538 93 V798"/><g><g stroke-width="3.6" transform="translate(0,-3)" stroke-linecap="round"><circle cx="66" cy="73" r="11.5"/><circle cx="101" cy="40" r="11.5"/><path d="M66 73 C70 70 72 76 67 78"/><path d="M69 61 C63 50 72 42 79 48 C85 54 76 62 73 55 C71 47 84 52 89 44"/><path d="M101 40 C104 35 109 40 104 44"/></g></g><g transform="translate(1596,0) scale(-1,1)"><g stroke-width="3.6" transform="translate(0,-3)" stroke-linecap="round"><circle cx="66" cy="73" r="11.5"/><circle cx="101" cy="40" r="11.5"/><path d="M66 73 C70 70 72 76 67 78"/><path d="M69 61 C63 50 72 42 79 48 C85 54 76 62 73 55 C71 47 84 52 89 44"/><path d="M101 40 C104 35 109 40 104 44"/></g></g><g transform="translate(0,891) scale(1,-1)"><g stroke-width="3.6" transform="translate(0,-3)" stroke-linecap="round"><circle cx="66" cy="73" r="11.5"/><circle cx="101" cy="40" r="11.5"/><path d="M66 73 C70 70 72 76 67 78"/><path d="M69 61 C63 50 72 42 79 48 C85 54 76 62 73 55 C71 47 84 52 89 44"/><path d="M101 40 C104 35 109 40 104 44"/></g></g><g transform="translate(1596,891) scale(-1,-1)"><g stroke-width="3.6" transform="translate(0,-3)" stroke-linecap="round"><circle cx="66" cy="73" r="11.5"/><circle cx="101" cy="40" r="11.5"/><path d="M66 73 C70 70 72 76 67 78"/><path d="M69 61 C63 50 72 42 79 48 C85 54 76 62 73 55 C71 47 84 52 89 44"/><path d="M101 40 C104 35 109 40 104 44"/></g></g></svg><div class="a" style="left:110px;top:-4px;width:234px;height:902px;background:#1f3f8f"></div><div class="a" style="left:237px;top:235px;width:365px;height:298px;background:#c3161c"></div><div class="a" style="left:118px;top:36px;font-weight:bold;font-size:206px;line-height:230px;color:#fff;letter-spacing:-3px;-webkit-text-stroke:2px #fff;white-space:nowrap">04</div><div class="a" style="left:303px;top:248px;font-weight:900;font-size:113px;line-height:130px;color:#fff;white-space:nowrap">用户<br>回馈</div><div class="t" style="left:378px;top:557.2px;font-size:33.6px;line-height:37.6px;color:#333;">通过复制您的文本后，在此框中选择粘贴。通过复制您的文本后，在此框中<br>选择粘贴。通过复制您的文本后，在此框中选择粘贴。通过复制您的文本后，<br>在此框中选择粘贴。通过复制您的文本后，在此框中选择粘贴。</div><svg width="1596" height="894"><use href="#SKY"/><g mask="url(#mfade)" opacity=".9"><use href="#SKY" transform="translate(0,876) scale(1,-1)"/></g></svg></div></div><div class="s" style="left:401px;top:210px"><div class="a" style="left:0;top:2.0px;width:1596px;height:894px"><div class="p"></div><svg width="1596" height="894" viewBox="0 0 1596 894" fill="none" stroke="#b23a38" stroke-width="3.8"><path d="M124 32 H1472 M124 858 H1472 M58 93 V798 M1538 93 V798"/><g><g stroke-width="3.6" transform="translate(0,-3)" stroke-linecap="round"><circle cx="66" cy="73" r="11.5"/><circle cx="101" cy="40" r="11.5"/><path d="M66 73 C70 70 72 76 67 78"/><path d="M69 61 C63 50 72 42 79 48 C85 54 76 62 73 55 C71 47 84 52 89 44"/><path d="M101 40 C104 35 109 40 104 44"/></g></g><g transform="translate(1596,0) scale(-1,1)"><g stroke-width="3.6" transform="translate(0,-3)" stroke-linecap="round"><circle cx="66" cy="73" r="11.5"/><circle cx="101" cy="40" r="11.5"/><path d="M66 73 C70 70 72 76 67 78"/><path d="M69 61 C63 50 72 42 79 48 C85 54 76 62 73 55 C71 47 84 52 89 44"/><path d="M101 40 C104 35 109 40 104 44"/></g></g><g transform="translate(0,891) scale(1,-1)"><g stroke-width="3.6" transform="translate(0,-3)" stroke-linecap="round"><circle cx="66" cy="73" r="11.5"/><circle cx="101" cy="40" r="11.5"/><path d="M66 73 C70 70 72 76 67 78"/><path d="M69 61 C63 50 72 42 79 48 C85 54 76 62 73 55 C71 47 84 52 89 44"/><path d="M101 40 C104 35 109 40 104 44"/></g></g><g transform="translate(1596,891) scale(-1,-1)"><g stroke-width="3.6" transform="translate(0,-3)" stroke-linecap="round"><circle cx="66" cy="73" r="11.5"/><circle cx="101" cy="40" r="11.5"/><path d="M66 73 C70 70 72 76 67 78"/><path d="M69 61 C63 50 72 42 79 48 C85 54 76 62 73 55 C71 47 84 52 89 44"/><path d="M101 40 C104 35 109 40 104 44"/></g></g></svg><div class="tt">此处输入标题</div><svg width="1596" height="894"><circle cx="220" cy="276" r="34" fill="#fbf3e6" stroke="#c3c6d0" stroke-width="2.2"/><g fill="#c3161c"><circle cx="218" cy="259" r="6"/><path d="M210 267 l10 0 l4 14 l8 -12 l4 3 l-10 17 l-4 0 l0 12 l-22 0 l0 -24z"/></g><circle cx="558" cy="276" r="34" fill="#fbf3e6" stroke="#c3c6d0" stroke-width="2.2"/><g fill="#c3161c"><circle cx="552" cy="260" r="6"/><path d="M546 268 h12 v14 h-12z M541 278 h34 v4 h-34z M543 282 h4 v14 h-4z M569 282 h4 v14 h-4z"/></g><circle cx="898" cy="276" r="34" fill="#fbf3e6" stroke="#c3c6d0" stroke-width="2.2"/><g fill="#c3161c"><circle cx="888" cy="264" r="6"/><path d="M883 271 h10 v22 h-10z M898 264 h20 v14 h-20z M906 278 h4 v16 h-4z"/></g><circle cx="1238" cy="276" r="34" fill="#fbf3e6" stroke="#c3c6d0" stroke-width="2.2"/><g fill="#c3161c"><circle cx="1232" cy="264" r="6"/><path d="M1230 272 l10 2 l18 -14 l3 4 l-18 16 l-4 20 l-6 0 l0 -14 l-8 14 l-6 -2z"/></g><path d="M352 276 H404" stroke="#eef0f2" stroke-width="8" fill="none"/><path d="M404 260 L426 276 L404 292 Z" fill="#eef0f2"/><path d="M690 276 H742" stroke="#eef0f2" stroke-width="8" fill="none"/><path d="M742 260 L764 276 L742 292 Z" fill="#eef0f2"/><path d="M1030 276 H1082" stroke="#eef0f2" stroke-width="8" fill="none"/><path d="M1082 260 L1104 276 L1082 292 Z" fill="#eef0f2"/><circle cx="220" cy="590" r="34" fill="#fbf3e6" stroke="#c3c6d0" stroke-width="2.2"/><g fill="#c3161c"><circle cx="216" cy="575" r="6"/><path d="M208 583 l10 0 l6 10 l10 -16 l4 3 l-12 21 l-4 0 l-4 14 l-16 0 l2 -20z"/><rect x="228" y="568" width="14" height="5"/></g><circle cx="558" cy="590" r="34" fill="#fbf3e6" stroke="#c3c6d0" stroke-width="2.2"/><g fill="#c3161c"><circle cx="558" cy="574" r="5.5"/><path d="M556 586 l-12 -8 l2 -4 l10 6 l10 -6 l2 4 l-10 8 l0 8 l6 10 l-4 2 l-6 -9 l-6 9 l-4 -2 l6 -10z"/><rect x="540" y="610" width="36" height="4"/></g><circle cx="898" cy="590" r="34" fill="#fbf3e6" stroke="#c3c6d0" stroke-width="2.2"/><g fill="#c3161c"><circle cx="886" cy="574" r="6"/><path d="M880 582 h12 v34 h-12z"/><path d="M896 580 h22 v18 h-22z" fill="none" stroke="#c3161c" stroke-width="3"/><rect x="906" y="598" width="3" height="14"/></g><circle cx="1238" cy="590" r="34" fill="#fbf3e6" stroke="#c3c6d0" stroke-width="2.2"/><g fill="#c3161c"><circle cx="1232" cy="575" r="6"/><circle cx="1248" cy="582" r="5"/><path d="M1224 583 h16 l4 28 h-24z M1242 590 h12 l4 22 h-20z"/></g><path d="M426 590 H378" stroke="#eef0f2" stroke-width="8" fill="none"/><path d="M378 574 L356 590 L378 606 Z" fill="#eef0f2"/><path d="M764 590 H716" stroke="#eef0f2" stroke-width="8" fill="none"/><path d="M716 574 L694 590 L716 606 Z" fill="#eef0f2"/><path d="M1104 590 H1056" stroke="#eef0f2" stroke-width="8" fill="none"/><path d="M1056 574 L1034 590 L1056 606 Z" fill="#eef0f2"/><path d="M1395 280 H1470 Q1505 280 1505 318 V550 Q1505 588 1470 588 H1425" stroke="#eef0f2" stroke-width="7" fill="none"/><path d="M1428 572 L1400 588 L1428 604Z" fill="#eef0f2"/></svg><div class="t c" style="left:220px;top:333px;font-size:26px;line-height:32px;color:#444;">通过复制您的文本<br>后，在此框中选择<br>粘贴。</div><div class="t c" style="left:558px;top:333px;font-size:26px;line-height:32px;color:#444;">通过复制您的文本<br>后，在此框中选择<br>粘贴。</div><div class="t c" style="left:898px;top:333px;font-size:26px;line-height:32px;color:#444;">通过复制您的文本<br>后，在此框中选择<br>粘贴。</div><div class="t c" style="left:1238px;top:333px;font-size:26px;line-height:32px;color:#444;">通过复制您的文本<br>后，在此框中选择<br>粘贴。</div><div class="t c" style="left:220px;top:647px;font-size:26px;line-height:32px;color:#444;">通过复制您的文本<br>后，在此框中选择<br>粘贴。</div><div class="t c" style="left:558px;top:647px;font-size:26px;line-height:32px;color:#444;">通过复制您的文本<br>后，在此框中选择<br>粘贴。</div><div class="t c" style="left:898px;top:647px;font-size:26px;line-height:32px;color:#444;">通过复制您的文本<br>后，在此框中选择<br>粘贴。</div><div class="t c" style="left:1238px;top:647px;font-size:26px;line-height:32px;color:#444;">通过复制您的文本<br>后，在此框中选择<br>粘贴。</div><svg width="1596" height="894"><use href="#SKY" transform="translate(418.48,738.824) scale(0.352)"/></svg></div></div><div class="s" style="left:0px;top:436px"><div class="a" style="left:0;top:2.6px;width:1596px;height:894px"><div class="p"></div><svg width="1596" height="894" viewBox="0 0 1596 894" fill="none" stroke="#b23a38" stroke-width="3.8"><path d="M124 32 H1472 M124 858 H1472 M58 93 V798 M1538 93 V798"/><g><g stroke-width="3.6" transform="translate(0,-3)" stroke-linecap="round"><circle cx="66" cy="73" r="11.5"/><circle cx="101" cy="40" r="11.5"/><path d="M66 73 C70 70 72 76 67 78"/><path d="M69 61 C63 50 72 42 79 48 C85 54 76 62 73 55 C71 47 84 52 89 44"/><path d="M101 40 C104 35 109 40 104 44"/></g></g><g transform="translate(1596,0) scale(-1,1)"><g stroke-width="3.6" transform="translate(0,-3)" stroke-linecap="round"><circle cx="66" cy="73" r="11.5"/><circle cx="101" cy="40" r="11.5"/><path d="M66 73 C70 70 72 76 67 78"/><path d="M69 61 C63 50 72 42 79 48 C85 54 76 62 73 55 C71 47 84 52 89 44"/><path d="M101 40 C104 35 109 40 104 44"/></g></g><g transform="translate(0,891) scale(1,-1)"><g stroke-width="3.6" transform="translate(0,-3)" stroke-linecap="round"><circle cx="66" cy="73" r="11.5"/><circle cx="101" cy="40" r="11.5"/><path d="M66 73 C70 70 72 76 67 78"/><path d="M69 61 C63 50 72 42 79 48 C85 54 76 62 73 55 C71 47 84 52 89 44"/><path d="M101 40 C104 35 109 40 104 44"/></g></g><g transform="translate(1596,891) scale(-1,-1)"><g stroke-width="3.6" transform="translate(0,-3)" stroke-linecap="round"><circle cx="66" cy="73" r="11.5"/><circle cx="101" cy="40" r="11.5"/><path d="M66 73 C70 70 72 76 67 78"/><path d="M69 61 C63 50 72 42 79 48 C85 54 76 62 73 55 C71 47 84 52 89 44"/><path d="M101 40 C104 35 109 40 104 44"/></g></g></svg><div class="tt">此处输入标题</div><svg width="1596" height="894"><path d="M609 281.4 L695 331.4 L783 281.4 Q795 276 795 292 V470 Q795 478 787 484 L703 543 Q695 549 687 543 L605 484 Q597 478 597 470 V292 Q597 276 609 281.4Z" fill="#a91218"/><path d="M609 275.4 L695 325.4 L783 275.4 Q795 270 795 286 V462 Q795 470 787 476 L703 535 Q695 541 687 535 L605 476 Q597 470 597 462 V286 Q597 270 609 275.4Z" fill="#c3161c"/><circle cx="695" cy="421.4" r="44" fill="#fff"/><path d="M889 405 Q897 399 905 405 L989 462 Q997 468 997 476 V650 Q997 668 983 660 L897 611.4 L811 660 Q797 668 797 650 V476 Q797 468 805 462Z" fill="#1f3f8f"/><path d="M889 405 Q897 399 905 405 L989 462 Q997 468 997 476 V484 L905 420 Q897 414 889 420 L797 484 V476 Q797 468 805 462Z" fill="#17306f"/><circle cx="897" cy="521.4" r="44" fill="#fff"/></svg><div class="a" style="left:88px;top:542.4px;width:600px;height:2px;background:#e3dccd"></div><div class="a" style="left:900px;top:395.4px;width:607px;height:2px;background:#e3dccd"></div><div class="h c" style="left:342px;top:175.4px;">此处输入标题</div><div class="t c" style="left:342px;top:243.4px;font-size:26px;line-height:32px;color:#444;">通过复制您的文本后，在此框中选<br>择粘贴。</div><div class="t c" style="left:342px;top:350.4px;font-size:24px;line-height:24px;color:#333;">……</div><div class="t c" style="left:342px;top:391.4px;font-size:26px;line-height:32px;color:#444;">通过复制您的文本后，在此框中选<br>择粘贴。</div><div class="t c" style="left:342px;top:497.4px;font-size:24px;line-height:24px;color:#333;">……</div><div class="h c" style="left:1255px;top:417.4px;">此处输入标题</div><div class="t c" style="left:1255px;top:485.4px;font-size:26px;line-height:32px;color:#444;">通过复制您的文本后，在此框中选<br>择粘贴。</div><div class="t c" style="left:1255px;top:592.4px;font-size:24px;line-height:24px;color:#333;">……</div><div class="t c" style="left:1255px;top:633.4px;font-size:26px;line-height:32px;color:#444;">通过复制您的文本后，在此框中选<br>择粘贴。</div><div class="t c" style="left:1255px;top:739.4px;font-size:24px;line-height:24px;color:#333;">……</div><svg width="1596" height="894"><use href="#SKY" transform="translate(418.48,738.824) scale(0.352)"/></svg></div></div><div class="s" style="left:401px;top:436px"><div class="a" style="left:0;top:2.6px;width:1596px;height:894px"><div class="p"></div><svg width="1596" height="894" viewBox="0 0 1596 894" fill="none" stroke="#b23a38" stroke-width="3.8"><path d="M124 32 H1472 M124 858 H1472 M58 93 V798 M1538 93 V798"/><g><g stroke-width="3.6" transform="translate(0,-3)" stroke-linecap="round"><circle cx="66" cy="73" r="11.5"/><circle cx="101" cy="40" r="11.5"/><path d="M66 73 C70 70 72 76 67 78"/><path d="M69 61 C63 50 72 42 79 48 C85 54 76 62 73 55 C71 47 84 52 89 44"/><path d="M101 40 C104 35 109 40 104 44"/></g></g><g transform="translate(1596,0) scale(-1,1)"><g stroke-width="3.6" transform="translate(0,-3)" stroke-linecap="round"><circle cx="66" cy="73" r="11.5"/><circle cx="101" cy="40" r="11.5"/><path d="M66 73 C70 70 72 76 67 78"/><path d="M69 61 C63 50 72 42 79 48 C85 54 76 62 73 55 C71 47 84 52 89 44"/><path d="M101 40 C104 35 109 40 104 44"/></g></g><g transform="translate(0,891) scale(1,-1)"><g stroke-width="3.6" transform="translate(0,-3)" stroke-linecap="round"><circle cx="66" cy="73" r="11.5"/><circle cx="101" cy="40" r="11.5"/><path d="M66 73 C70 70 72 76 67 78"/><path d="M69 61 C63 50 72 42 79 48 C85 54 76 62 73 55 C71 47 84 52 89 44"/><path d="M101 40 C104 35 109 40 104 44"/></g></g><g transform="translate(1596,891) scale(-1,-1)"><g stroke-width="3.6" transform="translate(0,-3)" stroke-linecap="round"><circle cx="66" cy="73" r="11.5"/><circle cx="101" cy="40" r="11.5"/><path d="M66 73 C70 70 72 76 67 78"/><path d="M69 61 C63 50 72 42 79 48 C85 54 76 62 73 55 C71 47 84 52 89 44"/><path d="M101 40 C104 35 109 40 104 44"/></g></g></svg><div class="tt">此处输入标题</div><svg width="1596" height="894"><defs><filter id="sh" x="-20%" y="-20%" width="140%" height="140%"><feGaussianBlur stdDeviation="4"/></filter></defs><path d="M240 403.4 L303 438.4 L303 508.4 L240 543.4 L177 508.4 L177 438.4Z" fill="#d8cfc0" filter="url(#sh)" opacity=".7"/><path d="M240 408.4 L296 439.9 L296 502.9 L240 534.4 L184 502.9 L184 439.9Z" fill="#fff" stroke="#fff" stroke-width="8" stroke-linejoin="round"/><path d="M345 471.4 H388" stroke="#e8e9ea" stroke-width="12" fill="none"/><path d="M388 455.4 L410 471.4 L388 487.4 Z" fill="#e8e9ea"/><path d="M518 403.4 L581 438.4 L581 508.4 L518 543.4 L455 508.4 L455 438.4Z" fill="#d8cfc0" filter="url(#sh)" opacity=".7"/><path d="M518 408.4 L574 439.9 L574 502.9 L518 534.4 L462 502.9 L462 439.9Z" fill="#fff" stroke="#fff" stroke-width="8" stroke-linejoin="round"/><path d="M623 471.4 H666" stroke="#e8e9ea" stroke-width="12" fill="none"/><path d="M666 455.4 L688 471.4 L666 487.4 Z" fill="#e8e9ea"/><path d="M795 403.4 L858 438.4 L858 508.4 L795 543.4 L732 508.4 L732 438.4Z" fill="#d8cfc0" filter="url(#sh)" opacity=".7"/><path d="M795 408.4 L851 439.9 L851 502.9 L795 534.4 L739 502.9 L739 439.9Z" fill="#fff" stroke="#fff" stroke-width="8" stroke-linejoin="round"/><path d="M900 471.4 H943" stroke="#e8e9ea" stroke-width="12" fill="none"/><path d="M943 455.4 L965 471.4 L943 487.4 Z" fill="#e8e9ea"/><path d="M1075 403.4 L1138 438.4 L1138 508.4 L1075 543.4 L1012 508.4 L1012 438.4Z" fill="#d8cfc0" filter="url(#sh)" opacity=".7"/><path d="M1075 408.4 L1131 439.9 L1131 502.9 L1075 534.4 L1019 502.9 L1019 439.9Z" fill="#fff" stroke="#fff" stroke-width="8" stroke-linejoin="round"/><path d="M1180 471.4 H1223" stroke="#e8e9ea" stroke-width="12" fill="none"/><path d="M1223 455.4 L1245 471.4 L1223 487.4 Z" fill="#e8e9ea"/><path d="M1355 403.4 L1418 438.4 L1418 508.4 L1355 543.4 L1292 508.4 L1292 438.4Z" fill="#d8cfc0" filter="url(#sh)" opacity=".7"/><path d="M1355 408.4 L1411 439.9 L1411 502.9 L1355 534.4 L1299 502.9 L1299 439.9Z" fill="#fff" stroke="#fff" stroke-width="8" stroke-linejoin="round"/><g fill="#c3161c" stroke="#c3161c"><circle cx="240" cy="453.4" r="13" stroke="none"/><path d="M240 466.4 v14 M216 480.4 h48 M216 480.4 v10 M240 480.4 v10 M264 480.4 v10" stroke-width="4" fill="none"/><circle cx="216" cy="495.4" r="4.5" stroke="none"/><circle cx="240" cy="495.4" r="4.5" stroke="none"/><circle cx="264" cy="495.4" r="4.5" stroke="none"/></g><path d="M239 455.4 v-8 h5" stroke="#fff" stroke-width="2.5" fill="none"/><g stroke="#1f3f8f" stroke-width="4" fill="none"><path d="M498 451.4 h50 v40 h-38"/><path d="M506 491.4 q-12 0 -12 -14" /><path d="M494 469.4 l-6 8 l12 0z" fill="#1f3f8f" stroke="none"/></g><text x="528" y="481.4" font-family="Liberation Sans,sans-serif" font-weight="bold" font-size="28" fill="#1f3f8f" text-anchor="middle">$</text><g stroke="#c3161c" stroke-width="4.5" fill="none"><rect x="770" y="447.4" width="50" height="40"/><path d="M764 445.4 h62 M795 487.4 v10 M783 469.4 v14 M795 461.4 v22 M807 473.4 v10"/></g><g stroke="#1f3f8f" stroke-width="4" fill="#1f3f8f"><path d="M1055 443.4 v56 M1075 443.4 v56 M1095 443.4 v56" fill="none"/><rect x="1050" y="459.4" width="10" height="14" stroke="none"/><rect x="1070" y="475.4" width="10" height="14" stroke="none"/><rect x="1090" y="455.4" width="10" height="14" stroke="none"/></g><g stroke="#c3161c" stroke-width="4" fill="none"><path d="M1329 445.4 h30 l10 10 v36 h-40z"/><path d="M1337 463.4 h18 M1337 473.4 h18 M1337 483.4 h12"/><path d="M1357 485.4 l24 -28 l8 7 l-24 28 l-10 3z" fill="#c3161c"/></g></svg><div class="h c" style="left:242px;top:563.4px;">此处输入标题</div><div class="t c" style="left:242px;top:623.4px;font-size:26px;line-height:32px;color:#4a4a4a;">通过复制您的文本<br>后，在此框中选择<br>粘贴。</div><div class="t c" style="left:242px;top:764.4px;font-size:21px;line-height:22px;color:#666;">… …</div><div class="h c" style="left:520px;top:150.4px;">此处输入标题</div><div class="t c" style="left:520px;top:210.4px;font-size:26px;line-height:32px;color:#4a4a4a;">通过复制您的文本<br>后，在此框中选择<br>粘贴。</div><div class="t c" style="left:520px;top:351.4px;font-size:21px;line-height:22px;color:#666;">… …</div><div class="h c" style="left:797px;top:563.4px;">此处输入标题</div><div class="t c" style="left:797px;top:623.4px;font-size:26px;line-height:32px;color:#4a4a4a;">通过复制您的文本<br>后，在此框中选择<br>粘贴。</div><div class="t c" style="left:797px;top:764.4px;font-size:21px;line-height:22px;color:#666;">… …</div><div class="h c" style="left:1077px;top:150.4px;">此处输入标题</div><div class="t c" style="left:1077px;top:210.4px;font-size:26px;line-height:32px;color:#4a4a4a;">通过复制您的文本<br>后，在此框中选择<br>粘贴。</div><div class="t c" style="left:1077px;top:351.4px;font-size:21px;line-height:22px;color:#666;">… …</div><div class="h c" style="left:1357px;top:563.4px;">此处输入标题</div><div class="t c" style="left:1357px;top:623.4px;font-size:26px;line-height:32px;color:#4a4a4a;">通过复制您的文本<br>后，在此框中选择<br>粘贴。</div><div class="t c" style="left:1357px;top:764.4px;font-size:21px;line-height:22px;color:#666;">… …</div><svg width="1596" height="894"><use href="#SKY" transform="translate(418.48,738.824) scale(0.352)"/></svg></div></div><div class="s" style="left:0px;top:663px"><div class="a" style="left:0;top:-0.8px;width:1596px;height:894px"><div class="p"></div><svg width="1596" height="894" viewBox="0 0 1596 894" fill="none" stroke="#b23a38" stroke-width="3.8"><path d="M124 32 H1472 M124 858 H1472 M58 93 V798 M1538 93 V798"/><g><g stroke-width="3.6" transform="translate(0,-3)" stroke-linecap="round"><circle cx="66" cy="73" r="11.5"/><circle cx="101" cy="40" r="11.5"/><path d="M66 73 C70 70 72 76 67 78"/><path d="M69 61 C63 50 72 42 79 48 C85 54 76 62 73 55 C71 47 84 52 89 44"/><path d="M101 40 C104 35 109 40 104 44"/></g></g><g transform="translate(1596,0) scale(-1,1)"><g stroke-width="3.6" transform="translate(0,-3)" stroke-linecap="round"><circle cx="66" cy="73" r="11.5"/><circle cx="101" cy="40" r="11.5"/><path d="M66 73 C70 70 72 76 67 78"/><path d="M69 61 C63 50 72 42 79 48 C85 54 76 62 73 55 C71 47 84 52 89 44"/><path d="M101 40 C104 35 109 40 104 44"/></g></g><g transform="translate(0,891) scale(1,-1)"><g stroke-width="3.6" transform="translate(0,-3)" stroke-linecap="round"><circle cx="66" cy="73" r="11.5"/><circle cx="101" cy="40" r="11.5"/><path d="M66 73 C70 70 72 76 67 78"/><path d="M69 61 C63 50 72 42 79 48 C85 54 76 62 73 55 C71 47 84 52 89 44"/><path d="M101 40 C104 35 109 40 104 44"/></g></g><g transform="translate(1596,891) scale(-1,-1)"><g stroke-width="3.6" transform="translate(0,-3)" stroke-linecap="round"><circle cx="66" cy="73" r="11.5"/><circle cx="101" cy="40" r="11.5"/><path d="M66 73 C70 70 72 76 67 78"/><path d="M69 61 C63 50 72 42 79 48 C85 54 76 62 73 55 C71 47 84 52 89 44"/><path d="M101 40 C104 35 109 40 104 44"/></g></g></svg><div class="tt">此处输入标题</div><div class="a" style="left:133px;top:221.8px;width:519px;height:62px;border-radius:12px;background:#c3161c"></div><div class="a" style="left:183px;top:210.8px;width:72px;height:72px;border-radius:50%;background:#c3161c;border:6px solid #fff"></div><svg width="1596" height="894"><g fill="#fff"><circle cx="233" cy="245" r="9"/><path d="M217 270 q0 -16 16 -16 q16 0 16 16z"/><circle cx="214" cy="253" r="5.5"/><path d="M204 270 q0 -10 10 -10 q6 0 8 4 q-4 3 -4 6z"/></g><g transform="translate(760,248.8)"><g fill="#c9c9c9"><ellipse cx="32" cy="164" rx="9" ry="12"/><path d="M27 174 h10 v8 l14 6 q5 3 5 10 l-2 50 l-5 4 l-2 50 h-30 l-2 -50 l-5 -4 l-2 -50 q0 -7 5 -10 l14 -6z"/></g><path d="M28 184 l4 14 l4 -14 l8 40 h-24z" fill="#e9e6e2"/><g fill="#b4b4b4"><ellipse cx="113" cy="122" rx="14" ry="19"/><path d="M105 136 h16 v14 l26 9 q9 4 10 16 l3 90 h-10 l-3 -40 l-4 80 h-60 l-4 -80 l-3 40 h-10 l3 -90 q1 -12 10 -16 l26 -9z"/><rect x="138" y="266" width="22" height="34"/></g><path d="M104 152 L113 164 L122 152 L128 236 H98Z" fill="#f2f0ed"/><path d="M110 158 h6 l4 70 l-7 8 l-7 -8z" fill="#b4b4b4"/><g fill="#c2c2c2"><path d="M437 104 q15 0 15 20 q0 14 8 22 l-14 4 q14 6 16 22 l2 70 l-8 60 h-42 l4 -60 l-4 -60 q0 -22 16 -32 l-6 -6 q-4 -8 -2 -20 q2 -20 15 -20z"/><rect x="392" y="228" width="46" height="42"/></g><g fill="#bcbcbc"><path d="M705 101 q17 0 17 24 q0 14 8 22 h-50 q8 -8 8 -22 q0 -24 17 -24z"/><path d="M696 140 h18 v8 l22 8 q8 4 9 16 l2 60 l-10 20 l-4 50 h-56 l-4 -50 l-10 -20 l2 -60 q1 -12 9 -16 l22 -8z"/></g><path d="M697 150 l8 30 l8 -30 l4 6 l-12 40 l-12 -40z" fill="#dedbd7"/><g fill="#8b8b8b"><ellipse cx="343" cy="95" rx="17" ry="24"/><path d="M333 112 h20 v14 l24 8 q8 4 10 14 l14 36 q2 8 -8 10 l-16 4 l2 104 h-76 l2 -100 l-4 -60 q0 -12 8 -16 l24 -8z"/></g><path d="M334 128 l9 10 l9 -10 l3 8 l-12 10 l-12 -10z" fill="#d6d3cf"/><path d="M318 182 l50 -14 l24 12 l-6 12 l-22 -6 l-44 12z" fill="#7a7a7a"/><g fill="#c3161c"><path d="M230 42 q26 0 28 34 q1 22 12 40 l-80 0 q11 -18 12 -40 q2 -34 28 -34z"/><path d="M218 100 h24 v10 l34 12 q10 5 11 18 l3 66 l-16 22 q-6 14 -4 34 l4 40 h-90 l6 -40 q2 -20 -6 -34 l-10 -22 l2 -66 q1 -13 11 -18 l31 -12z"/></g><path d="M220 112 l10 44 l10 -44 l5 2 l-11 50 h-8 l-11 -50z" fill="#fff"/><rect x="225" y="150" width="10" height="14" fill="#fff"/><g fill="#c3161c"><ellipse cx="580" cy="64" rx="23" ry="33"/><path d="M566 88 h28 v10 l42 14 q12 5 14 20 l10 78 q1 10 -6 22 l-14 28 l-6 42 h-112 l-6 -42 l-14 -28 q-7 -12 -6 -22 l10 -78 q2 -15 14 -20 l42 -14z"/></g><path d="M562 102 L580 120 L598 102 L612 228 H548Z" fill="#fff"/><path d="M575 112 h10 l8 100 l-13 18 l-13 -18z" fill="#c3161c"/><path d="M562 102 L548 228 L540 180 L550 108Z M598 102 L612 228 L620 180 L610 108Z" fill="#c3161c"/></g></svg><div class="h" style="left:310px;top:231.8px;color:#fff;">此处输入标题</div><div class="h" style="left:185px;top:332.8px;">此处输入标题</div><div class="t" style="left:207px;top:391.05px;font-size:26px;line-height:31.5px;color:#333;">通过复制您的文本后，在此框中<br>选择粘贴。</div><div class="t" style="left:184px;top:391.05px;font-size:22px;line-height:31.5px;color:#333;">•</div><div class="t" style="left:184px;top:459.05px;font-size:22px;line-height:31.5px;color:#333;">•&nbsp;&nbsp;……</div><div class="a" style="left:150px;top:536px;width:485px;height:2px;background:#e3dccd"></div></div></div><div class="s" style="left:401px;top:663px"><div class="a" style="left:0;top:-0.8px;width:1596px;height:894px"><div class="p"></div><svg width="1596" height="894" viewBox="0 0 1596 894" fill="none" stroke="#b23a38" stroke-width="3.8"><path d="M124 32 H1472 M124 858 H1472 M58 93 V798 M1538 93 V798"/><g><g stroke-width="3.6" transform="translate(0,-3)" stroke-linecap="round"><circle cx="66" cy="73" r="11.5"/><circle cx="101" cy="40" r="11.5"/><path d="M66 73 C70 70 72 76 67 78"/><path d="M69 61 C63 50 72 42 79 48 C85 54 76 62 73 55 C71 47 84 52 89 44"/><path d="M101 40 C104 35 109 40 104 44"/></g></g><g transform="translate(1596,0) scale(-1,1)"><g stroke-width="3.6" transform="translate(0,-3)" stroke-linecap="round"><circle cx="66" cy="73" r="11.5"/><circle cx="101" cy="40" r="11.5"/><path d="M66 73 C70 70 72 76 67 78"/><path d="M69 61 C63 50 72 42 79 48 C85 54 76 62 73 55 C71 47 84 52 89 44"/><path d="M101 40 C104 35 109 40 104 44"/></g></g><g transform="translate(0,891) scale(1,-1)"><g stroke-width="3.6" transform="translate(0,-3)" stroke-linecap="round"><circle cx="66" cy="73" r="11.5"/><circle cx="101" cy="40" r="11.5"/><path d="M66 73 C70 70 72 76 67 78"/><path d="M69 61 C63 50 72 42 79 48 C85 54 76 62 73 55 C71 47 84 52 89 44"/><path d="M101 40 C104 35 109 40 104 44"/></g></g><g transform="translate(1596,891) scale(-1,-1)"><g stroke-width="3.6" transform="translate(0,-3)" stroke-linecap="round"><circle cx="66" cy="73" r="11.5"/><circle cx="101" cy="40" r="11.5"/><path d="M66 73 C70 70 72 76 67 78"/><path d="M69 61 C63 50 72 42 79 48 C85 54 76 62 73 55 C71 47 84 52 89 44"/><path d="M101 40 C104 35 109 40 104 44"/></g></g></svg><div class="tt">此处输入标题</div><div class="a" style="left:102px;top:208.8px;width:670px;height:47px;background:#c3161c"></div><div class="h c" style="left:437px;top:211.3px;font-size:33px;color:#fff;">此处输入标题</div><div class="a" style="left:102px;top:271.8px;width:670px;height:120px;background:#fff;box-shadow:0 0 0 4px #ece9e6"></div><div class="t" style="left:112px;top:331.8px;font-size:12px;line-height:14px;color:#999;">… …</div><div class="a" style="left:102px;top:406.8px;width:670px;height:119px;background:#fff;box-shadow:0 0 0 4px #ece9e6"></div><div class="t" style="left:112px;top:466.8px;font-size:12px;line-height:14px;color:#999;">… …</div><div class="a" style="left:102px;top:540.8px;width:670px;height:120px;background:#fff;box-shadow:0 0 0 4px #ece9e6"></div><div class="t" style="left:112px;top:600.8px;font-size:12px;line-height:14px;color:#999;">… …</div><div class="a" style="left:823px;top:208.8px;width:672px;height:55px;background:#1f3f8f"></div><div class="h c" style="left:1159px;top:215.3px;font-size:33px;color:#fff;">此处输入标题</div><div class="a" style="left:823px;top:278.8px;width:672px;height:400px;background:#fff;box-shadow:0 0 0 4px #ece9e6"></div><div class="t" style="left:835px;top:299px;font-size:12px;line-height:14px;color:#999;">… …</div><svg width="1596" height="894"><g fill="#c3161c"><circle cx="428" cy="178" r="13"/><circle cx="446" cy="178" r="9" fill="none" stroke="#c3161c" stroke-width="3"/><path d="M420 160 l10 -6 l6 8z"/></g><g fill="#1f3f8f"><rect x="1140" y="156" width="16" height="40"/><rect x="1158" y="166" width="12" height="30"/><path d="M1172 168 q12 10 0 26z"/></g></svg></div></div><div class="wm" style="left:550px;top:186px">办图网</div><div class="wm" style="left:545px;top:603px">办图网</div><div class="wm" style="left:347px;top:407px">办图网</div><div class="wm" style="left:133px;top:616px">办图网</div><div class="wm" style="left:196px;top:191px">办图网</div></body></html>
